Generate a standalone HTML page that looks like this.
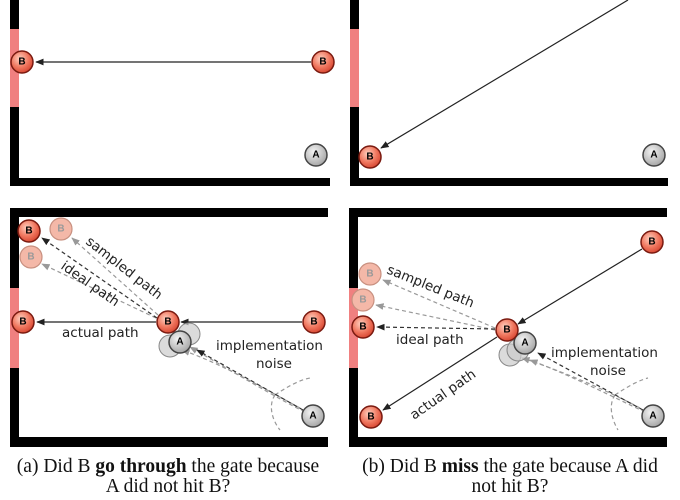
<!DOCTYPE html>
<html><head><meta charset="utf-8"><style>
html,body{margin:0;padding:0;background:#fff;}
svg{display:block;}
.cap{font-family:"Liberation Serif",serif;font-size:19.5px;fill:#111;}
.lbl{font-family:"DejaVu Sans","Liberation Sans",sans-serif;font-size:13.5px;fill:#222;}
.ct{font-family:"Liberation Sans",sans-serif;font-size:10px;font-weight:bold;text-anchor:middle;dominant-baseline:central;}
</style></head><body>
<svg width="680" height="500" viewBox="0 0 680 500">
<defs>
<radialGradient id="gb" cx="40%" cy="35%" r="65%"><stop offset="0" stop-color="#ffd0c0"/><stop offset="0.6" stop-color="#f07860"/><stop offset="1" stop-color="#d94a35"/></radialGradient>
<radialGradient id="ga" cx="40%" cy="35%" r="65%"><stop offset="0" stop-color="#f4f4f4"/><stop offset="1" stop-color="#a8a8a8"/></radialGradient>
<marker id="ah" viewBox="0 0 10 10" refX="9" refY="5" markerWidth="7" markerHeight="7" orient="auto"><path d="M0,1 L10,5 L0,9 z" fill="#222"/></marker>
<marker id="ag" viewBox="0 0 10 10" refX="9" refY="5" markerWidth="7" markerHeight="7" orient="auto"><path d="M0,1 L10,5 L0,9 z" fill="#999"/></marker>
</defs>

<g>
<rect x="10" y="0" width="9" height="186" fill="#000"/>
<rect x="10" y="29" width="9" height="78" fill="#f08080"/>
<rect x="10" y="178" width="320" height="8" fill="#000"/>
<line x1="311" y1="62" x2="36" y2="62" stroke="#222" stroke-width="1.2" marker-end="url(#ah)"/>
<g><circle cx="22" cy="62" r="11" fill="url(#gb)" stroke="#7a1a10" stroke-width="1.5"/><text class="ct" x="22" y="62">B</text></g>
<g><circle cx="323" cy="62" r="11" fill="url(#gb)" stroke="#7a1a10" stroke-width="1.5"/><text class="ct" x="323" y="62">B</text></g>
<g><circle cx="316" cy="155" r="11" fill="url(#ga)" stroke="#444" stroke-width="1.5"/><text class="ct" x="316" y="155">A</text></g>
</g>

<g>
<rect x="350" y="0" width="9" height="186" fill="#000"/>
<rect x="350" y="29" width="9" height="78" fill="#f08080"/>
<rect x="350" y="178" width="318" height="8" fill="#000"/>
<line x1="628" y1="0" x2="381" y2="148" stroke="#222" stroke-width="1.2" marker-end="url(#ah)"/>
<g><circle cx="370" cy="157" r="11" fill="url(#gb)" stroke="#7a1a10" stroke-width="1.5"/><text class="ct" x="370" y="157">B</text></g>
<g><circle cx="654" cy="155" r="11" fill="url(#ga)" stroke="#444" stroke-width="1.5"/><text class="ct" x="654" y="155">A</text></g>
</g>

<g>
<rect x="10" y="208" width="318" height="9" fill="#000"/>
<rect x="10" y="208" width="9" height="239" fill="#000"/>
<rect x="10" y="288" width="9" height="80" fill="#f08080"/>
<rect x="10" y="437" width="318" height="10" fill="#000"/>
<g stroke="#999" stroke-width="1.2" stroke-dasharray="4,3" fill="none">
<line x1="158" y1="315" x2="72" y2="238" marker-end="url(#ag)"/>
<line x1="156" y1="318" x2="42" y2="264" marker-end="url(#ag)"/>
<path d="M305,412 C280,400 230,370 190,347" marker-end="url(#ag)"/>
<path d="M300,408 C270,392 225,365 182,350" marker-end="url(#ag)"/>
<path d="M275,395 C290,385 300,380 310,378"/>
<path d="M275,395 C268,405 272,420 280,430"/>
</g>
<g stroke="#333" stroke-width="1.2" stroke-dasharray="4,3" fill="none">
<line x1="157" y1="318" x2="42" y2="238" marker-end="url(#ah)"/>
<line x1="303" y1="410" x2="197" y2="350" marker-end="url(#ah)"/>
</g>
<line x1="302" y1="322" x2="181" y2="322" stroke="#222" stroke-width="1.2" marker-end="url(#ah)"/>
<line x1="156" y1="322" x2="37" y2="322" stroke="#222" stroke-width="1.2" marker-end="url(#ah)"/>
<g>
<circle cx="170" cy="346" r="11" fill="#ccc" fill-opacity="0.7" stroke="#888"/>
<circle cx="189" cy="334" r="11" fill="#ccc" fill-opacity="0.7" stroke="#888"/>
<circle cx="180" cy="342" r="11" fill="url(#ga)" stroke="#444" stroke-width="1.5"/><text class="ct" x="180" y="342">A</text>
</g>
<g><circle cx="61" cy="229" r="11" fill="#f4b8a8" stroke="#c89080" stroke-width="1.2"/><text class="ct" x="61" y="229" fill="#999">B</text></g>
<g><circle cx="31" cy="257" r="11" fill="#f4b8a8" stroke="#c89080" stroke-width="1.2"/><text class="ct" x="31" y="257" fill="#999">B</text></g>
<g><circle cx="29" cy="231" r="11" fill="url(#gb)" stroke="#7a1a10" stroke-width="1.5"/><text class="ct" x="29" y="231">B</text></g>
<g><circle cx="23" cy="322" r="11" fill="url(#gb)" stroke="#7a1a10" stroke-width="1.5"/><text class="ct" x="23" y="322">B</text></g>
<g><circle cx="168" cy="322" r="11" fill="url(#gb)" stroke="#7a1a10" stroke-width="1.5"/><text class="ct" x="168" y="322">B</text></g>
<g><circle cx="314" cy="322" r="11" fill="url(#gb)" stroke="#7a1a10" stroke-width="1.5"/><text class="ct" x="314" y="322">B</text></g>
<g><circle cx="313" cy="416" r="11" fill="url(#ga)" stroke="#444" stroke-width="1.5"/><text class="ct" x="313" y="416">A</text></g>
<text class="lbl" transform="translate(85,243) rotate(38)">sampled path</text>
<text class="lbl" transform="translate(60,268) rotate(35)">ideal path</text>
<text class="lbl" x="62" y="337">actual path</text>
<text class="lbl" x="216" y="350">implementation</text>
<text class="lbl" x="256" y="368">noise</text>
</g>

<g>
<rect x="349" y="208" width="318" height="9" fill="#000"/>
<rect x="349" y="208" width="9" height="239" fill="#000"/>
<rect x="349" y="288" width="9" height="80" fill="#f08080"/>
<rect x="349" y="437" width="318" height="10" fill="#000"/>
<g stroke="#999" stroke-width="1.2" stroke-dasharray="4,3" fill="none">
<line x1="495" y1="328" x2="383" y2="280" marker-end="url(#ag)"/>
<line x1="495" y1="330" x2="376" y2="305" marker-end="url(#ag)"/>
<path d="M645,412 C615,398 570,375 530,360" marker-end="url(#ag)"/>
<path d="M640,408 C610,392 565,372 522,358" marker-end="url(#ag)"/>
<path d="M615,395 C630,385 640,380 648,378"/>
<path d="M615,395 C608,405 612,420 618,430"/>
</g>
<g stroke="#333" stroke-width="1.2" stroke-dasharray="4,3" fill="none">
<line x1="495" y1="329" x2="377" y2="327" marker-end="url(#ah)"/>
<line x1="643" y1="410" x2="538" y2="353" marker-end="url(#ah)"/>
</g>
<line x1="642" y1="249" x2="518" y2="324" stroke="#222" stroke-width="1.2" marker-end="url(#ah)"/>
<line x1="497" y1="337" x2="383" y2="410" stroke="#222" stroke-width="1.2" marker-end="url(#ah)"/>
<g>
<circle cx="510" cy="355" r="11" fill="#ccc" fill-opacity="0.7" stroke="#888"/>
<circle cx="518" cy="350" r="11" fill="#ccc" fill-opacity="0.7" stroke="#888"/>
<circle cx="525" cy="343" r="11" fill="url(#ga)" stroke="#444" stroke-width="1.5"/><text class="ct" x="525" y="343">A</text>
</g>
<g><circle cx="370" cy="274" r="11" fill="#f4b8a8" stroke="#c89080" stroke-width="1.2"/><text class="ct" x="370" y="274" fill="#999">B</text></g>
<g><circle cx="363" cy="300" r="11" fill="#f4b8a8" stroke="#c89080" stroke-width="1.2"/><text class="ct" x="363" y="300" fill="#999">B</text></g>
<g><circle cx="363" cy="327" r="11" fill="url(#gb)" stroke="#7a1a10" stroke-width="1.5"/><text class="ct" x="363" y="327">B</text></g>
<g><circle cx="371" cy="417" r="11" fill="url(#gb)" stroke="#7a1a10" stroke-width="1.5"/><text class="ct" x="371" y="417">B</text></g>
<g><circle cx="507" cy="330" r="11" fill="url(#gb)" stroke="#7a1a10" stroke-width="1.5"/><text class="ct" x="507" y="330">B</text></g>
<g><circle cx="652" cy="242" r="11" fill="url(#gb)" stroke="#7a1a10" stroke-width="1.5"/><text class="ct" x="652" y="242">B</text></g>
<g><circle cx="653" cy="416" r="11" fill="url(#ga)" stroke="#444" stroke-width="1.5"/><text class="ct" x="653" y="416">A</text></g>
<text class="lbl" transform="translate(386,273) rotate(22)">sampled path</text>
<text class="lbl" x="396" y="344">ideal path</text>
<text class="lbl" transform="translate(414,420) rotate(-35)">actual path</text>
<text class="lbl" x="551" y="357">implementation</text>
<text class="lbl" x="590" y="375">noise</text>
</g>

<text class="cap" x="168" y="472" text-anchor="middle">(a) Did B <tspan font-weight="bold">go through</tspan> the gate because</text>
<text class="cap" x="168" y="492" text-anchor="middle">A did not hit B?</text>
<text class="cap" x="510" y="472" text-anchor="middle">(b) Did B <tspan font-weight="bold">miss</tspan> the gate because A did</text>
<text class="cap" x="510" y="492" text-anchor="middle">not hit B?</text>
</svg>
</body></html>
